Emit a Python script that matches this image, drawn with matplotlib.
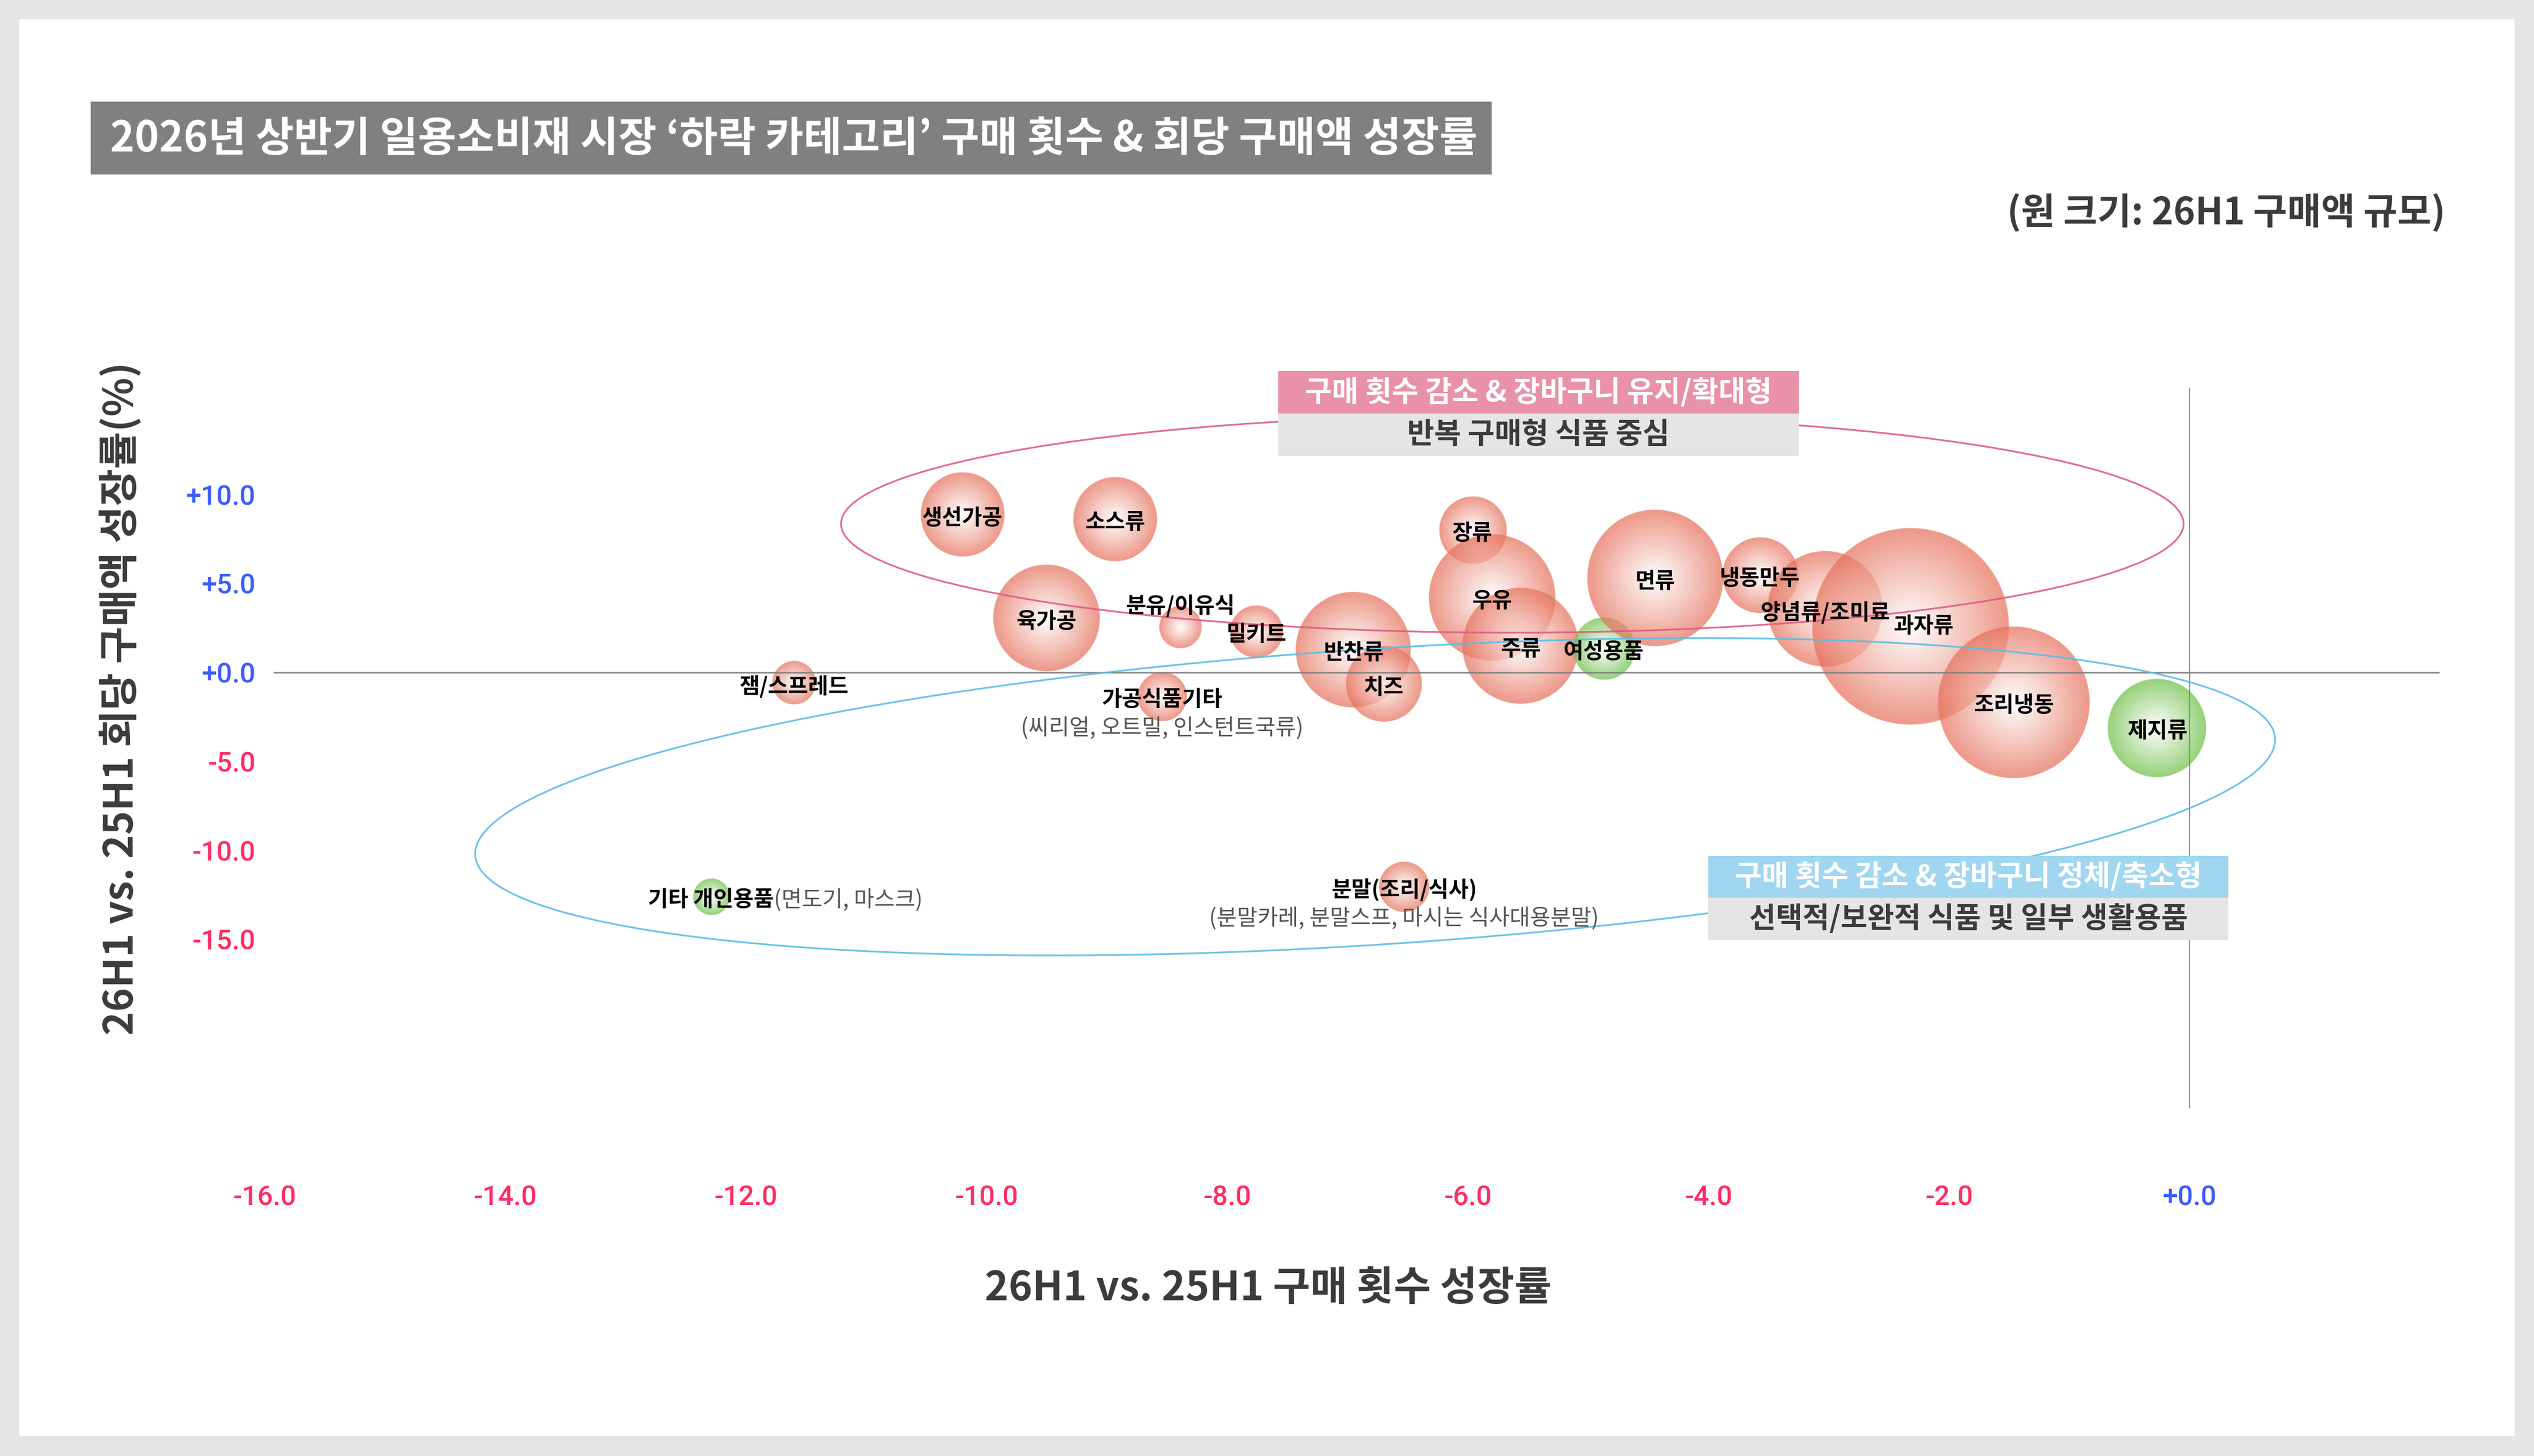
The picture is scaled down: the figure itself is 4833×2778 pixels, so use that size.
import numpy as np
import matplotlib
matplotlib.use('Agg')
import matplotlib.pyplot as plt
from matplotlib.patches import Rectangle, Ellipse
from matplotlib.colors import to_rgb

plt.rcParams['font.family'] = ['Noto Sans CJK KR', 'DejaVu Sans']

# ---------------- data ----------------
categories = ['생선가공', '소스류', '육가공', '분유/이유식', '밀키트', '반찬류', '잼/스프레드',
              '가공식품기타', '치즈', '장류', '우유', '주류', '여성용품', '면류', '냉동만두',
              '양념류/조미료', '과자류', '조리냉동', '제지류', '분말(조리/식사)', '기타 개인용품']
freq_growth = [-10.20, -8.93, -9.50, -8.39, -7.76, -6.95, -11.60, -8.54, -6.70, -5.96, -5.80,
               -5.56, -4.87, -4.44, -3.57, -3.03, -2.32, -1.46, -0.27, -6.53, -12.29]
amount_growth = [8.86, 8.60, 3.06, 2.53, 2.30, 1.27, -0.59, -1.35, -0.65, 8.00, 4.21,
                 1.50, 1.35, 5.30, 5.45, 3.56, 2.59, -1.68, -3.12, -12.04, -12.60]
sales_size = [64, 64, 104, 16, 25, 121, 17, 22, 52, 41, 146, 123, 35, 169, 52, 121, 353,
              210, 88, 23, 12]
group = ['식품', '식품', '식품', '식품', '식품', '식품', '식품', '식품', '식품', '식품', '식품',
         '식품', '생활', '식품', '식품', '식품', '식품', '식품', '생활', '식품', '생활']
sub_labels = {'가공식품기타': '(씨리얼, 오트밀, 인스턴트국류)',
              '분말(조리/식사)': '(분말카레, 분말스프, 마시는 식사대용분말)',
              '기타 개인용품': '(면도기, 마스크)'}

x_ticks = [-16, -14, -12, -10, -8, -6, -4, -2, 0]
x_tick_labels = ['-16.0', '-14.0', '-12.0', '-10.0', '-8.0', '-6.0', '-4.0', '-2.0', '+0.0']
y_ticks = [10, 5, 0, -5, -10, -15]
y_tick_labels = ['+10.0', '+5.0', '+0.0', '-5.0', '-10.0', '-15.0']

title = "2026년 상반기 일용소비재 시장 ‘하락 카테고리’ 구매 횟수 & 회당 구매액 성장률"
subtitle = "(원 크기: 26H1 구매액 규모)"
x_label = "26H1 vs. 25H1 구매 횟수 성장률"
y_label = "26H1 vs. 25H1 회당 구매액 성장률(%)"
box1_head = "구매 횟수 감소 & 장바구니 유지/확대형"
box1_sub = "반복 구매형 식품 중심"
box2_head = "구매 횟수 감소 & 장바구니 정체/축소형"
box2_sub = "선택적/보완적 식품 및 일부 생활용품"

# ---------------- style ----------------
W, H = 4833, 2778
DPI = 300
C_FOOD = '#e6705a'
C_LIFE = '#6cbf45'
C_POS = '#3a5cff'
C_NEG = '#ff2d64'
C_DARK = '#3d3a3a'
C_PINK = '#de5c86'
C_BLUE = '#5bbde6'

fig = plt.figure(figsize=(W / DPI, H / DPI), dpi=DPI, facecolor='#e6e6e6')


def fx(px):
    return px / W


def fy(py):
    return 1 - py / H


# white card
fig.add_artist(Rectangle((fx(37), fy(2740)), fx(4796) - fx(37), fy(37) - fy(2740),
                         transform=fig.transFigure, facecolor='white', edgecolor='none', zorder=0))

ax = fig.add_axes([fx(505), fy(2115), fx(4635) - fx(505), fy(740) - fy(2115)])
ax.set_facecolor('none')
ax.set_xlim(-16, 2)
ax.set_ylim(-24.5, 16)
for s in ax.spines.values():
    s.set_visible(False)

ax.plot([-15.92, 2.07], [0, 0], color='#808080', lw=0.75, alpha=0.9, zorder=3, clip_on=False)
ax.axvline(0, color='#808080', lw=0.55, alpha=0.9, zorder=3)

# pixel scale of data units
p0 = ax.transData.transform((0, 0))
p1 = ax.transData.transform((1, 1))
sx, sy = p1[0] - p0[0], p1[1] - p0[1]

# bubbles with radial gradient
N = 321
g = np.linspace(-1, 1, N)
U, V = np.meshgrid(g, g)
D = np.sqrt(U ** 2 + V ** 2)
for name, xv, yv, sz, grp in zip(categories, freq_growth, amount_growth, sales_size, group):
    r_px = 10.0 * np.sqrt(sz)
    col = np.array(to_rgb(C_LIFE if grp == '생활' else C_FOOD))
    t = np.clip(D, 0, 1)[..., None]
    rgb = (1 - t) * np.ones(3) + t * col
    aa = np.clip((1 - D) * r_px / 1.2 + 0.5, 0, 1)
    img = np.dstack([rgb, 0.72 * aa])
    ax.imshow(img, extent=[xv - r_px / sx, xv + r_px / sx, yv - r_px / sy, yv + r_px / sy],
              origin='lower', interpolation='bilinear', aspect='auto', zorder=2)

ax.set_xlim(-16, 2)
ax.set_ylim(-24.5, 16)

# group ellipses
pink_center, pink_semi = (-5.63, 8.36), (5.58, 6.12)
ax.add_patch(Ellipse(pink_center, 2 * pink_semi[0], 2 * pink_semi[1], fill=False,
                     edgecolor=C_PINK, lw=0.8, alpha=0.9, zorder=3))
blue_center, blue_semi_px, blue_angle = (-6.77, -6.98), (1720, 282), 3.73
tt = np.linspace(0, 2 * np.pi, 600)
th = np.deg2rad(blue_angle)
ex = blue_center[0] + (blue_semi_px[0] * np.cos(tt) * np.cos(th) - blue_semi_px[1] * np.sin(tt) * np.sin(th)) / sx
ey = blue_center[1] + (blue_semi_px[0] * np.cos(tt) * np.sin(th) + blue_semi_px[1] * np.sin(tt) * np.cos(th)) / sy
ax.plot(ex, ey, color=C_BLUE, lw=0.8, alpha=0.9, zorder=3)

# bubble labels
label_offsets = {'분유/이유식': (0, 10), '과자류': (6, 0)}
for name, xv, yv in zip(categories, freq_growth, amount_growth):
    off = label_offsets.get(name, (0, -1.5))
    tx = ax.annotate(name, (xv, yv), xytext=off, textcoords='offset points', ha='center',
                     va='center', fontsize=10.0, fontweight='bold', color='black', zorder=6)
    if name in sub_labels:
        if name == '기타 개인용품':
            ax.annotate(sub_labels[name], xy=(1, 0.5), xycoords=tx, ha='left', va='center',
                        fontsize=10.2, color='#555555', zorder=6)
        else:
            ax.annotate(sub_labels[name], (xv, yv), xytext=(0, -14.5), textcoords='offset points',
                        ha='center', va='center', fontsize=10.2, color='#555555', zorder=6)

# ticks
ax.set_xticks(x_ticks)
ax.set_xticklabels(x_tick_labels)
ax.set_yticks(y_ticks)
ax.set_yticklabels(y_tick_labels)
ax.tick_params(axis='both', length=0, labelsize=12.5)
ax.tick_params(axis='x', pad=35)
ax.tick_params(axis='y', pad=4.3)
for lbl, v in zip(ax.get_xticklabels(), x_ticks):
    lbl.set_color(C_POS if v >= 0 else C_NEG)
    lbl.set_fontfamily('Roboto')
    lbl.set_fontweight('medium')
for lbl, v in zip(ax.get_yticklabels(), y_ticks):
    lbl.set_color(C_POS if v >= 0 else C_NEG)
    lbl.set_fontfamily('Roboto')
    lbl.set_fontweight('medium')

# axis titles
fig.text(fx(2419), fy(2459), x_label, ha='center', va='center', fontsize=18.5,
         fontweight='bold', color=C_DARK)
fig.text(fx(230), fy(1333), y_label, ha='center', va='center', rotation=90, fontsize=18.5,
         fontweight='bold', color=C_DARK)

# title
fig.add_artist(Rectangle((fx(173), fy(333)), fx(2845) - fx(173), fy(194) - fy(333),
                         transform=fig.transFigure, facecolor='#808080', edgecolor='none', zorder=1))
fig.text(fx(210), fy(266), title, ha='left', va='center', fontsize=19.0, fontweight='bold',
         color='white', zorder=2)
fig.text(fx(4664), fy(406), subtitle, ha='right', va='center', fontsize=16.9, fontweight='bold',
         color=C_DARK)

# group boxes
def box(x0, x1, y0, y1, color):
    fig.add_artist(Rectangle((fx(x0), fy(y1)), fx(x1) - fx(x0), fy(y0) - fy(y1),
                             transform=fig.transFigure, facecolor=color, edgecolor='none', zorder=4))

box(2438, 3431, 708, 789, '#e891a9')
box(2438, 3431, 789, 870, '#e5e5e5')
fig.text(fx(2934), fy(749), box1_head, ha='center', va='center', fontsize=13.3, fontweight='bold',
         color='white', zorder=5)
fig.text(fx(2934), fy(830), box1_sub, ha='center', va='center', fontsize=13.4, fontweight='bold',
         color=C_DARK, zorder=5)
box(3258, 4250, 1633, 1713, '#a0d6ef')
box(3258, 4250, 1713, 1794, '#e5e5e5')
fig.text(fx(3754), fy(1673), box2_head, ha='center', va='center', fontsize=13.3, fontweight='bold',
         color='white', zorder=5)
fig.text(fx(3754), fy(1754), box2_sub, ha='center', va='center', fontsize=13.3, fontweight='bold',
         color=C_DARK, zorder=5)

fig.savefig('out.png', dpi=DPI, facecolor=fig.get_facecolor())
